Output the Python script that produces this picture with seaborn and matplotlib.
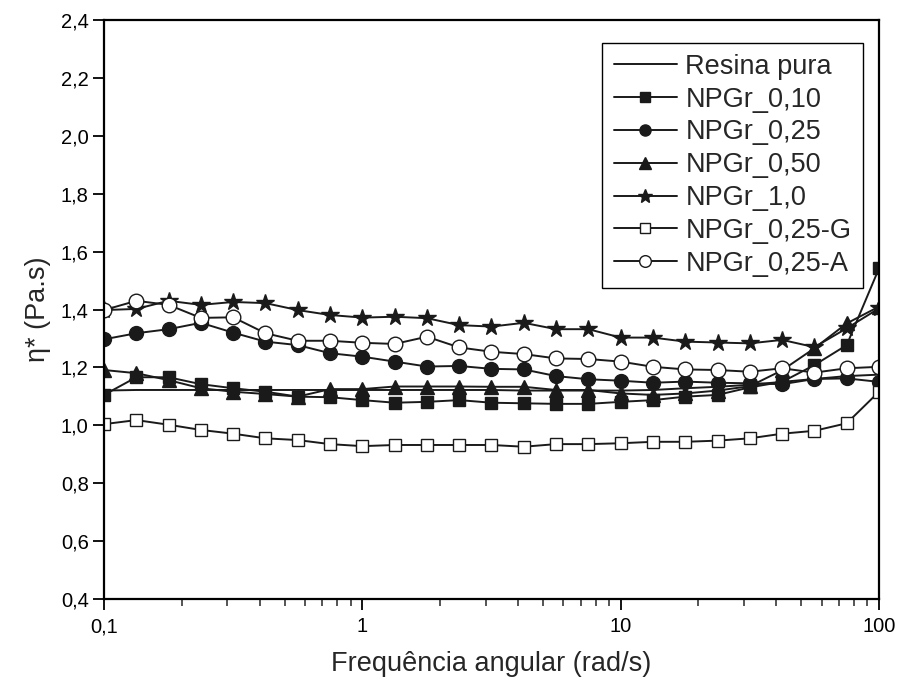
import matplotlib
matplotlib.use("Agg")
import matplotlib.pyplot as plt
import matplotlib.ticker as mticker
import numpy as np
import pandas as pd
import seaborn as sns

# ---- data ----
freq = [0.1, 0.1334, 0.1778, 0.2371, 0.3162, 0.4217, 0.5623, 0.7499, 1.0, 1.334,
        1.778, 2.371, 3.162, 4.217, 5.623, 7.499, 10.0, 13.34, 17.78, 23.71,
        31.62, 42.17, 56.23, 74.99, 100.0]

resina = [1.120, 1.122, 1.122, 1.122, 1.122, 1.122, 1.122, 1.122, 1.122, 1.122,
          1.122, 1.122, 1.122, 1.120, 1.120, 1.120, 1.120, 1.122, 1.128, 1.133,
          1.140, 1.150, 1.160, 1.170, 1.175]
npgr_010 = [1.105, 1.166, 1.166, 1.142, 1.128, 1.116, 1.099, 1.097, 1.087, 1.078,
            1.081, 1.087, 1.078, 1.076, 1.074, 1.074, 1.081, 1.087, 1.099, 1.105,
            1.131, 1.150, 1.208, 1.277, 1.542]
npgr_025 = [1.297, 1.318, 1.332, 1.354, 1.320, 1.289, 1.277, 1.249, 1.237, 1.220,
            1.203, 1.205, 1.195, 1.193, 1.170, 1.159, 1.154, 1.147, 1.151, 1.147,
            1.145, 1.142, 1.160, 1.162, 1.150]
npgr_050 = [1.191, 1.180, 1.156, 1.128, 1.116, 1.108, 1.099, 1.125, 1.125, 1.134,
            1.134, 1.134, 1.133, 1.133, 1.122, 1.122, 1.110, 1.105, 1.110, 1.120,
            1.135, 1.190, 1.266, 1.352, 1.410]
npgr_10 = [1.398, 1.402, 1.430, 1.416, 1.426, 1.422, 1.398, 1.381, 1.372, 1.375,
           1.370, 1.346, 1.341, 1.354, 1.332, 1.332, 1.303, 1.303, 1.289, 1.286,
           1.283, 1.295, 1.270, 1.335, 1.404]
npgr_025g = [1.004, 1.018, 1.002, 0.984, 0.971, 0.955, 0.949, 0.935, 0.928, 0.932,
             0.932, 0.932, 0.932, 0.926, 0.935, 0.935, 0.938, 0.943, 0.943, 0.947,
             0.955, 0.971, 0.981, 1.007, 1.116]
npgr_025a = [1.398, 1.430, 1.416, 1.371, 1.373, 1.318, 1.292, 1.292, 1.285, 1.281,
             1.306, 1.269, 1.254, 1.246, 1.231, 1.229, 1.220, 1.202, 1.193, 1.191,
             1.185, 1.197, 1.182, 1.197, 1.202]

labels = ["Resina pura", "NPGr_0,10", "NPGr_0,25", "NPGr_0,50", "NPGr_1,0",
          "NPGr_0,25-G", "NPGr_0,25-A"]
series = [resina, npgr_010, npgr_025, npgr_050, npgr_10, npgr_025g, npgr_025a]

y_ticks = [0.4, 0.6, 0.8, 1.0, 1.2, 1.4, 1.6, 1.8, 2.0, 2.2, 2.4]
x_ticks = [0.1, 1, 10, 100]
x_ticklabels = ["0,1", "1", "10", "100"]

# ---- style ----
sns.set_theme(style="ticks")
plt.rcParams['font.family'] = ['Liberation Sans', 'DejaVu Sans']

markers = [None, "s", "o", "^", "*", "s", "o"]
faces = [None, "k", "k", "k", "k", "white", "white"]
msizes = [0, 9, 10, 10, 13, 9, 10.5]

fig = plt.figure(figsize=(9.01, 6.88), dpi=100)
ax = fig.add_axes([104/901, 89/688, 775/901, 579/688])

line_color = "#1a1a1a"
for lab, vals, mk, fc, ms in zip(labels, series, markers, faces, msizes):
    df = pd.DataFrame({"freq": freq, "eta": vals})
    kw = dict(color=line_color, linewidth=1.4)
    if mk is not None:
        kw.update(marker=mk, markersize=ms, markerfacecolor=fc,
                  markeredgecolor=line_color, markeredgewidth=1.0)
    sns.lineplot(data=df, x="freq", y="eta", ax=ax, label=lab, **kw)

ax.set_xscale("log")
ax.set_xlim(0.1, 100)
ax.set_ylim(0.4, 2.4)
ax.set_yticks(y_ticks)
ax.yaxis.set_major_formatter(mticker.FuncFormatter(
    lambda v, p: f"{v:.1f}".replace(".", ",")))
ax.xaxis.set_major_locator(mticker.FixedLocator(x_ticks))
ax.xaxis.set_major_formatter(mticker.FixedFormatter(x_ticklabels))
ax.xaxis.set_minor_locator(mticker.LogLocator(base=10, subs=np.arange(2, 10), numticks=20))
ax.xaxis.set_minor_formatter(mticker.NullFormatter())

ax.tick_params(axis="both", which="major", direction="out", length=8, width=1.3,
               labelsize=14.5, colors="black")
ax.tick_params(axis="y", which="major", pad=3)
ax.tick_params(axis="x", which="major", pad=5)
ax.tick_params(axis="x", which="minor", direction="out", length=5, width=1.1)
ax.tick_params(axis="y", which="minor", length=0)
for s in ax.spines.values():
    s.set_visible(True)
    s.set_linewidth(1.6)
    s.set_color("black")

ax.set_xlabel("Frequência angular (rad/s)", fontsize=19.5, labelpad=11)
ax.set_ylabel("η* (Pa.s)", fontsize=19.5, labelpad=7)

leg = ax.legend(loc="upper right", bbox_to_anchor=(0.979, 0.961), borderaxespad=0,
                fontsize=19.5, frameon=True, fancybox=False, edgecolor="black",
                handlelength=2.35, handletextpad=0.3, labelspacing=0.25,
                borderpad=0.42)
leg.get_frame().set_linewidth(1.0)
leg.get_frame().set_alpha(1)
for h in leg.legend_handles:
    try:
        ms = h.get_markersize()
        h.set_markersize(ms * 0.8)
    except Exception:
        pass

fig.savefig("out.png", dpi=100)
